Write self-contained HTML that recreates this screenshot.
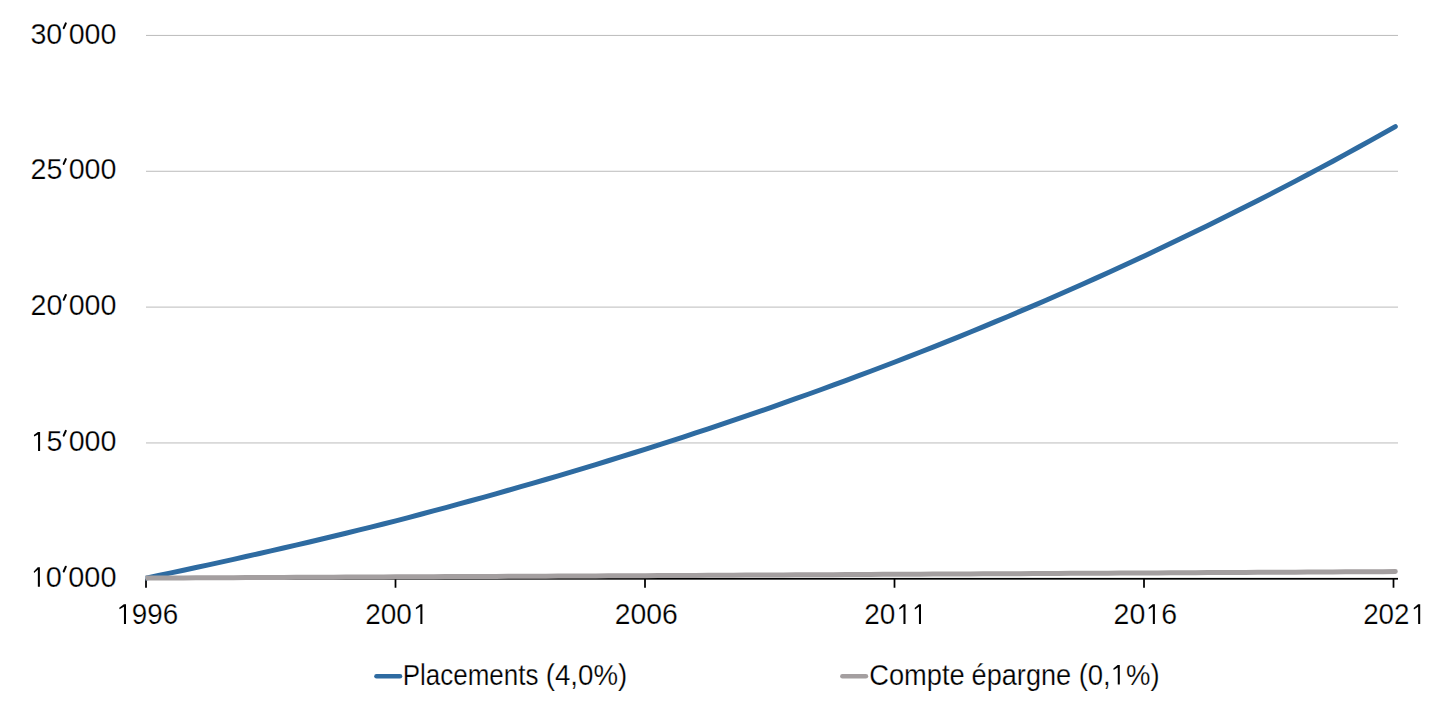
<!DOCTYPE html>
<html><head><meta charset="utf-8"><style>
html,body{margin:0;padding:0;background:#fff;width:1440px;height:720px;overflow:hidden}
svg{display:block}
text{font-family:"Liberation Sans",sans-serif;fill:#000;stroke:#fff;stroke-width:0.25px} .h{fill-opacity:0;stroke-opacity:0}
</style></head><body>
<svg width="1440" height="720" viewBox="0 0 1440 720">
<rect width="1440" height="720" fill="#fff"/>
<rect x="146" y="34.92" width="1252" height="1" fill="#bbbbbb"/>
<rect x="146" y="170.76" width="1252" height="1" fill="#bbbbbb"/>
<rect x="146" y="306.60" width="1252" height="1" fill="#bbbbbb"/>
<rect x="146" y="442.44" width="1252" height="1" fill="#bbbbbb"/>
<rect x="146" y="577.90" width="1252" height="1.75" fill="#000"/>
<rect x="145.125" y="578.78" width="1.75" height="8.97" fill="#000"/>
<rect x="394.625" y="578.78" width="1.75" height="8.97" fill="#000"/>
<rect x="644.125" y="578.78" width="1.75" height="8.97" fill="#000"/>
<rect x="893.625" y="578.78" width="1.75" height="8.97" fill="#000"/>
<rect x="1143.125" y="578.78" width="1.75" height="8.97" fill="#000"/>
<rect x="1392.625" y="578.78" width="1.75" height="8.97" fill="#000"/>
<clipPath id="c"><rect x="145.5" y="0" width="1440" height="720"/></clipPath>
<g clip-path="url(#c)"><path d="M146.00,578.08 L158.49,575.48 L170.99,572.86 L183.48,570.21 L195.97,567.54 L208.47,564.83 L220.96,562.10 L233.45,559.35 L245.94,556.56 L258.44,553.74 L270.93,550.90 L283.42,548.03 L295.92,545.13 L308.41,542.20 L320.90,539.23 L333.39,536.24 L345.89,533.22 L358.38,530.17 L370.87,527.09 L383.37,523.97 L395.86,520.83 L408.35,517.56 L420.85,514.27 L433.34,510.94 L445.83,507.58 L458.32,504.19 L470.82,500.76 L483.31,497.30 L495.80,493.81 L508.30,490.28 L520.79,486.71 L533.28,483.11 L545.78,479.48 L558.27,475.81 L570.76,472.10 L583.26,468.36 L595.75,464.58 L608.24,460.76 L620.73,456.90 L633.23,453.01 L645.72,449.08 L658.21,445.11 L670.71,441.09 L683.20,437.04 L695.69,432.95 L708.18,428.82 L720.68,424.65 L733.17,420.43 L745.66,416.18 L758.16,411.88 L770.65,407.54 L783.14,403.16 L795.64,398.73 L808.13,394.26 L820.62,389.75 L833.11,385.19 L845.61,380.59 L858.10,375.94 L870.59,371.25 L883.09,366.51 L895.58,361.72 L908.07,356.88 L920.57,352.00 L933.06,347.07 L945.55,342.09 L958.05,337.06 L970.54,331.99 L983.03,326.86 L995.52,321.68 L1008.02,316.45 L1020.51,311.17 L1033.00,305.84 L1045.50,300.45 L1057.99,295.01 L1070.48,289.52 L1082.97,283.97 L1095.47,278.37 L1107.96,272.72 L1120.45,267.00 L1132.95,261.24 L1145.44,255.41 L1157.93,249.53 L1170.43,243.59 L1182.92,237.59 L1195.41,231.53 L1207.91,225.45 L1220.40,219.30 L1232.89,213.10 L1245.38,206.83 L1257.88,200.50 L1270.37,194.10 L1282.86,187.65 L1295.36,181.13 L1307.85,174.54 L1320.34,167.89 L1332.84,161.18 L1345.33,154.39 L1357.82,147.54 L1370.31,140.63 L1382.81,133.64 L1395.30,126.58" fill="none" stroke="#2e6ba1" stroke-width="5" stroke-linecap="round" stroke-linejoin="round"/>
<path d="M146.00,578.08 L158.49,578.02 L170.99,577.96 L183.48,577.90 L195.97,577.84 L208.47,577.78 L220.96,577.72 L233.45,577.66 L245.94,577.60 L258.44,577.54 L270.93,577.47 L283.42,577.41 L295.92,577.35 L308.41,577.29 L320.90,577.23 L333.39,577.17 L345.89,577.11 L358.38,577.05 L370.87,576.99 L383.37,576.93 L395.86,576.87 L408.35,576.81 L420.85,576.75 L433.34,576.68 L445.83,576.62 L458.32,576.56 L470.82,576.50 L483.31,576.44 L495.80,576.38 L508.30,576.32 L520.79,576.26 L533.28,576.20 L545.78,576.14 L558.27,576.08 L570.76,576.01 L583.26,575.95 L595.75,575.89 L608.24,575.83 L620.73,575.77 L633.23,575.71 L645.72,575.65 L658.21,575.58 L670.71,575.51 L683.20,575.45 L695.69,575.38 L708.18,575.31 L720.68,575.24 L733.17,575.18 L745.66,575.11 L758.16,575.04 L770.65,574.98 L783.14,574.91 L795.64,574.84 L808.13,574.77 L820.62,574.71 L833.11,574.64 L845.61,574.57 L858.10,574.51 L870.59,574.44 L883.09,574.37 L895.58,574.30 L908.07,574.24 L920.57,574.17 L933.06,574.10 L945.55,574.03 L958.05,573.97 L970.54,573.90 L983.03,573.83 L995.52,573.76 L1008.02,573.70 L1020.51,573.63 L1033.00,573.56 L1045.50,573.49 L1057.99,573.43 L1070.48,573.36 L1082.97,573.29 L1095.47,573.22 L1107.96,573.16 L1120.45,573.09 L1132.95,573.02 L1145.44,572.95 L1157.93,572.89 L1170.43,572.82 L1182.92,572.75 L1195.41,572.68 L1207.91,572.61 L1220.40,572.55 L1232.89,572.48 L1245.38,572.41 L1257.88,572.34 L1270.37,572.28 L1282.86,572.21 L1295.36,572.14 L1307.85,572.07 L1320.34,572.00 L1332.84,571.94 L1345.33,571.87 L1357.82,571.80 L1370.31,571.73 L1382.81,571.66 L1395.30,571.60" fill="none" stroke="#a49fa0" stroke-width="5" stroke-linecap="round" stroke-linejoin="round"/></g>
<text x="30.44" y="43.52" font-size="29" textLength="85.98" lengthAdjust="spacingAndGlyphs">30<tspan class="h">’</tspan>000</text>
<text x="30.48" y="179.36" font-size="29" textLength="85.99" lengthAdjust="spacingAndGlyphs">25<tspan class="h">’</tspan>000</text>
<text x="30.48" y="315.20" font-size="29" textLength="85.99" lengthAdjust="spacingAndGlyphs">20<tspan class="h">’</tspan>000</text>
<text x="30.48" y="451.04" font-size="29" textLength="85.91" lengthAdjust="spacingAndGlyphs"><tspan class="h">1</tspan>5<tspan class="h">’</tspan>000</text>
<text x="29.73" y="586.88" font-size="29" textLength="86.76" lengthAdjust="spacingAndGlyphs"><tspan class="h">1</tspan>0<tspan class="h">’</tspan>000</text>
<text x="116.28" y="623.90" font-size="29" textLength="61.89" lengthAdjust="spacingAndGlyphs"><tspan class="h">1</tspan>996</text>
<text x="365.21" y="623.90" font-size="29" textLength="62.21" lengthAdjust="spacingAndGlyphs">200<tspan class="h">1</tspan></text>
<text x="614.74" y="623.90" font-size="29" textLength="62.99" lengthAdjust="spacingAndGlyphs">2006</text>
<text x="864.30" y="623.90" font-size="29" textLength="60.16" lengthAdjust="spacingAndGlyphs">20<tspan class="h">1</tspan><tspan class="h">1</tspan></text>
<text x="1113.61" y="623.90" font-size="29" textLength="63.41" lengthAdjust="spacingAndGlyphs">20<tspan class="h">1</tspan>6</text>
<text x="1363.18" y="623.90" font-size="29" textLength="61.71" lengthAdjust="spacingAndGlyphs">202<tspan class="h">1</tspan></text>
<text x="402.78" y="684.50" font-size="29" textLength="135.61" lengthAdjust="spacingAndGlyphs">Placements</text>
<text x="545.77" y="684.50" font-size="29" textLength="81.50" lengthAdjust="spacingAndGlyphs">(4,0%)</text>
<text x="869.23" y="684.50" font-size="29" textLength="95.49" lengthAdjust="spacingAndGlyphs">Compte</text>
<text x="971.60" y="684.50" font-size="29" textLength="99.59" lengthAdjust="spacingAndGlyphs">épargne</text>
<text x="1078.66" y="684.50" font-size="29" textLength="81.02" lengthAdjust="spacingAndGlyphs">(0,<tspan class="h">1</tspan>%)</text>
<path d="M39.90,567.30 L39.90,586.70 L37.85,586.70 L37.85,569.80 L34.05,572.90 L33.75,571.40 L37.75,567.30Z" fill="#000"/>
<path d="M40.10,432.00 L40.10,451.10 L38.05,451.10 L38.05,434.50 L34.15,436.60 L33.85,435.10 L37.95,432.00Z" fill="#000"/>
<path d="M126.00,604.30 L126.00,623.90 L123.95,623.90 L123.95,606.80 L119.55,609.30 L119.25,607.80 L123.85,604.30Z" fill="#000"/>
<path d="M422.40,604.30 L422.40,623.90 L420.35,623.90 L420.35,606.80 L416.05,609.20 L415.75,607.70 L420.25,604.30Z" fill="#000"/>
<path d="M905.50,604.30 L905.50,623.90 L903.45,623.90 L903.45,606.80 L899.45,609.40 L899.15,607.90 L903.35,604.30Z" fill="#000"/>
<path d="M921.00,604.30 L921.00,623.90 L918.95,623.90 L918.95,606.80 L914.95,609.40 L914.65,607.90 L918.85,604.30Z" fill="#000"/>
<path d="M1154.90,604.30 L1154.90,623.90 L1152.85,623.90 L1152.85,606.80 L1148.85,609.30 L1148.55,607.80 L1152.75,604.30Z" fill="#000"/>
<path d="M1420.20,604.30 L1420.20,623.90 L1418.15,623.90 L1418.15,606.80 L1413.95,609.40 L1413.65,607.90 L1418.05,604.30Z" fill="#000"/>
<path d="M1119.80,665.00 L1119.80,684.50 L1117.75,684.50 L1117.75,667.50 L1113.65,670.10 L1113.35,668.60 L1117.65,665.00Z" fill="#000"/>
<line x1="65.80" y1="23.32" x2="63.70" y2="28.12" stroke="#000" stroke-width="2.0" stroke-linecap="round"/>
<line x1="65.80" y1="159.16" x2="63.70" y2="163.96" stroke="#000" stroke-width="2.0" stroke-linecap="round"/>
<line x1="65.80" y1="295.00" x2="63.70" y2="299.80" stroke="#000" stroke-width="2.0" stroke-linecap="round"/>
<line x1="65.80" y1="430.84" x2="63.70" y2="435.64" stroke="#000" stroke-width="2.0" stroke-linecap="round"/>
<line x1="65.80" y1="566.68" x2="63.70" y2="571.48" stroke="#000" stroke-width="2.0" stroke-linecap="round"/>
<line x1="376.5" y1="676.3" x2="400" y2="676.3" stroke="#2e6ba1" stroke-width="4.6" stroke-linecap="round"/>
<line x1="842.4" y1="676.3" x2="865.9" y2="676.3" stroke="#a49fa0" stroke-width="4.6" stroke-linecap="round"/>
</svg>
</body></html>
